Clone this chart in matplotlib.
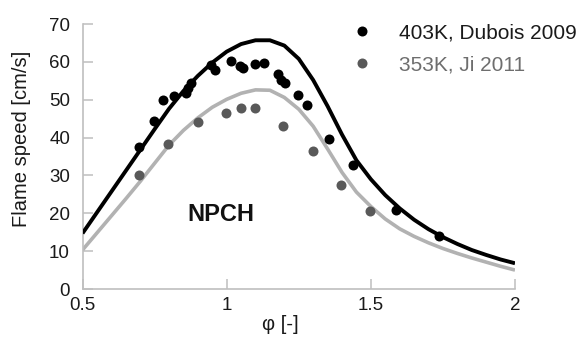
import matplotlib
matplotlib.use("Agg")
import matplotlib.pyplot as plt

plt.rcParams["font.family"] = ["Liberation Sans", "DejaVu Sans"]

# Measured laminar flame speeds
phi_dubois = [0.697, 0.748, 0.780, 0.818, 0.858, 0.866, 0.878, 0.947, 0.958, 1.016,
              1.045, 1.056, 1.097, 1.128, 1.178, 1.187, 1.201, 1.247, 1.278, 1.356,
              1.437, 1.587, 1.735]
su_dubois = [37.5, 44.4, 50.0, 50.9, 51.8, 53.2, 54.3, 59.1, 57.8, 60.2,
             58.9, 58.4, 59.4, 59.7, 56.7, 55.3, 54.3, 51.2, 48.5, 39.5,
             32.7, 21.0, 14.0]

phi_ji = [0.697, 0.797, 0.899, 0.999, 1.048, 1.097, 1.195, 1.301, 1.397, 1.497]
su_ji = [30.1, 38.4, 44.0, 46.6, 47.7, 47.7, 43.0, 36.5, 27.4, 20.6]

# Simulated flame speed curves
phi_sim = [0.50, 0.55, 0.60, 0.65, 0.70, 0.75, 0.80, 0.85, 0.90, 0.95,
           1.00, 1.05, 1.10, 1.15, 1.20, 1.25, 1.30, 1.35, 1.40, 1.45,
           1.50, 1.55, 1.60, 1.65, 1.70, 1.75, 1.80, 1.85, 1.90, 1.95, 2.00]
su_sim_403 = [14.7, 20.2, 25.7, 31.2, 36.7, 42.2, 47.6, 52.3, 56.3, 59.8,
              62.7, 64.7, 65.7, 65.7, 64.3, 60.8, 55.2, 48.3, 40.8, 34.0,
              29.0, 24.8, 21.3, 18.3, 15.8, 13.7, 11.9, 10.3, 9.0, 7.8, 6.8]
su_sim_353 = [10.3, 14.8, 19.3, 23.8, 28.4, 33.2, 38.0, 41.9, 45.2, 48.0,
              50.1, 51.7, 52.6, 52.5, 50.6, 47.5, 43.0, 37.0, 30.8, 25.6,
              21.8, 18.5, 15.9, 13.9, 12.2, 10.7, 9.4, 8.2, 7.1, 6.0, 5.0]

x_ticks = [0.5, 1.0, 1.5, 2.0]
x_tick_labels = ["0.5", "1", "1.5", "2"]
y_ticks = [0, 10, 20, 30, 40, 50, 60, 70]

fig = plt.figure(figsize=(5.82, 3.51), dpi=100)
ax = fig.add_axes([82.5 / 582, 1 - 289 / 351, (515 - 82.5) / 582, (289 - 24) / 351])

ax.plot(phi_sim, su_sim_353, color="#b2b2b2", lw=2.6, zorder=2, solid_capstyle="butt")
ax.plot(phi_sim, su_sim_403, color="#000000", lw=2.8, zorder=3, solid_capstyle="butt")
ax.plot(phi_dubois, su_dubois, "o", color="#000000", ms=7.2, mec="none", zorder=4,
        label="403K, Dubois 2009")
ax.plot(phi_ji, su_ji, "o", color="#595959", ms=7.2, mec="none", zorder=4,
        label="353K, Ji 2011")

ax.set_xlim(0.5, 2.0)
ax.set_ylim(0, 70)
ax.set_xticks(x_ticks)
ax.set_xticklabels(x_tick_labels)
ax.set_yticks(y_ticks)

for side in ("top", "right"):
    ax.spines[side].set_visible(False)
for side in ("left", "bottom"):
    ax.spines[side].set_color("#bfbfbf")
    ax.spines[side].set_linewidth(1.2)
ax.tick_params(axis="both", direction="in", length=7.5, width=1.1, color="#bfbfbf",
               labelsize=13.5, labelcolor="#1a1a1a")
ax.tick_params(axis="y", pad=9)
ax.tick_params(axis="x", pad=6)

fig.text(22 / 582, 1 - 138.5 / 351, "Flame speed [cm/s]", rotation=90,
         ha="center", va="center", fontsize=14.5, color="#1a1a1a")
fig.text(280 / 582, 1 - 325 / 351, "φ [-]", ha="center", va="center",
         fontsize=14.5, color="#1a1a1a")
ax.text(0.320, 0.283, "NPCH", transform=ax.transAxes, ha="center", va="center",
        fontsize=17, fontweight="bold", color="#111111")

leg = ax.legend(loc="upper left", bbox_to_anchor=(341 / 582, 1 - 23.5 / 351),
                bbox_transform=fig.transFigure, frameon=False, fontsize=15,
                borderpad=0, borderaxespad=0, handlelength=2.0, handletextpad=0.8,
                labelspacing=0.62, numpoints=1)
for txt, col in zip(leg.get_texts(), ["#1a1a1a", "#6e6e6e"]):
    txt.set_color(col)

fig.savefig("out.png", dpi=100)
